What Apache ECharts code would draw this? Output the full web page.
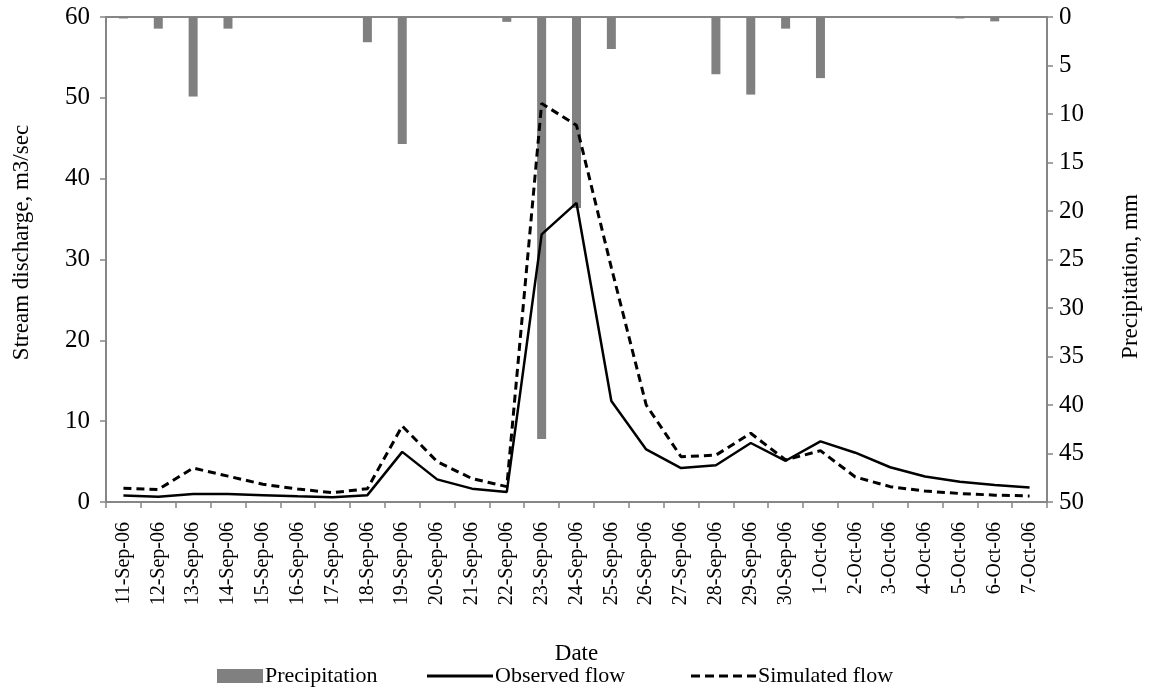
<!DOCTYPE html>
<html>
<head>
<meta charset="utf-8">
<script src="https://cdn.jsdelivr.net/npm/echarts@6/dist/echarts.min.js"></script>
<style>
html,body{margin:0;padding:0;background:#fff;}
#chart{width:1151px;height:692px;}
</style>
</head>
<body>
<div id="chart"></div>
<script>
const categories = ['11-Sep-06','12-Sep-06','13-Sep-06','14-Sep-06','15-Sep-06','16-Sep-06','17-Sep-06','18-Sep-06','19-Sep-06','20-Sep-06','21-Sep-06','22-Sep-06','23-Sep-06','24-Sep-06','25-Sep-06','26-Sep-06','27-Sep-06','28-Sep-06','29-Sep-06','30-Sep-06','1-Oct-06','2-Oct-06','3-Oct-06','4-Oct-06','5-Oct-06','6-Oct-06','7-Oct-06'];
const precipitation = [0.15,1.2,8.2,1.2,0,0,0,2.6,13.1,0,0,0.5,43.5,19.7,3.3,0,0,5.9,8.0,1.2,6.3,0,0,0,0.15,0.45,0];
const observedFlow = [0.8,0.65,1.0,1.0,0.85,0.7,0.6,0.85,6.2,2.8,1.65,1.25,33.1,37.0,12.5,6.5,4.2,4.55,7.3,5.1,7.5,6.1,4.3,3.15,2.5,2.1,1.8];
const simulatedFlow = [1.7,1.55,4.2,3.2,2.2,1.6,1.15,1.65,9.4,5.0,2.9,1.9,49.3,46.6,29.0,12.0,5.6,5.8,8.5,5.2,6.35,3.1,1.9,1.35,1.05,0.85,0.75];
const leftTicks = {min:0, max:60, interval:10};
const rightTicks = {min:0, max:50, interval:5};

const FONT = '"Liberation Serif", "Times New Roman", serif';
const AX = '#868686';
const legendText = {fontFamily:FONT, fontSize:22, color:'#000', padding:[0,0,0,-3]};
const solidIcon = 'path://M0,0h66v3h-66z';
const dashIcon = 'path://M0,0h9v3h-9z M14,0h9v3h-9z M28,0h9v3h-9z M42,0h9v3h-9z M56,0h9v3h-9z';

const chart = echarts.init(document.getElementById('chart'));
chart.setOption({
  animation:false,
  textStyle:{fontFamily:FONT, color:'#000'},
  grid:{left:106, right:104, top:17, bottom:190, containLabel:false},
  legend:[{
    bottom:0, left:212, itemWidth:46, itemHeight:14,
    textStyle:legendText, data:[{name:'Precipitation', icon:'rect'}]
  },{
    bottom:0, left:422, itemWidth:66, itemHeight:3,
    textStyle:legendText, data:[{name:'Observed flow', icon:solidIcon}]
  },{
    bottom:0, left:686, itemWidth:65, itemHeight:3,
    textStyle:legendText, data:[{name:'Simulated flow', icon:dashIcon}]
  }],
  xAxis:[{
    type:'category', data:categories, boundaryGap:true,
    axisLine:{lineStyle:{color:AX, width:2}},
    axisTick:{show:true, alignWithLabel:false, length:6, lineStyle:{color:AX, width:1.5}},
    axisLabel:{rotate:90, interval:0, fontSize:20, fontFamily:FONT, color:'#000', margin:20},
    name:'Date', nameLocation:'middle', nameGap:140,
    nameTextStyle:{fontFamily:FONT, fontSize:23, color:'#000'}
  },{
    type:'category', data:categories, position:'top',
    axisLine:{lineStyle:{color:AX, width:2}}, axisTick:{show:false}, axisLabel:{show:false}
  }],
  yAxis:[{
    type:'value', min:leftTicks.min, max:leftTicks.max, interval:leftTicks.interval,
    axisLine:{show:true, lineStyle:{color:AX, width:2}},
    axisTick:{show:true, length:6, lineStyle:{color:AX, width:1.5}},
    splitLine:{show:false},
    axisLabel:{fontSize:25, fontFamily:FONT, color:'#000', margin:16},
    name:'Stream discharge, m3/sec', nameLocation:'middle', nameGap:73,
    nameTextStyle:{fontFamily:FONT, fontSize:23, color:'#000', padding:[0,0,0,34]}
  },{
    type:'value', inverse:true, min:rightTicks.min, max:rightTicks.max, interval:rightTicks.interval,
    position:'right',
    axisLine:{show:true, lineStyle:{color:AX, width:2}},
    axisTick:{show:true, length:6, lineStyle:{color:AX, width:1.5}},
    splitLine:{show:false},
    axisLabel:{fontSize:25, fontFamily:FONT, color:'#000', margin:12},
    name:'Precipitation, mm', nameLocation:'middle', nameGap:72, nameRotate:90,
    nameTextStyle:{fontFamily:FONT, fontSize:23, color:'#000', padding:[0,34,0,0]}
  }],
  series:[{
    name:'Precipitation', type:'bar', yAxisIndex:1, xAxisIndex:0,
    data:precipitation, barWidth:9, itemStyle:{color:'#808080'}
  },{
    name:'Observed flow', type:'line', yAxisIndex:0, data:observedFlow,
    symbol:'none', lineStyle:{color:'#000', width:2.5}, itemStyle:{color:'#000'}
  },{
    name:'Simulated flow', type:'line', yAxisIndex:0, data:simulatedFlow,
    symbol:'none', lineStyle:{color:'#000', width:3, type:[8,5]}, itemStyle:{color:'#000'}
  }]
});
</script>
</body>
</html>
